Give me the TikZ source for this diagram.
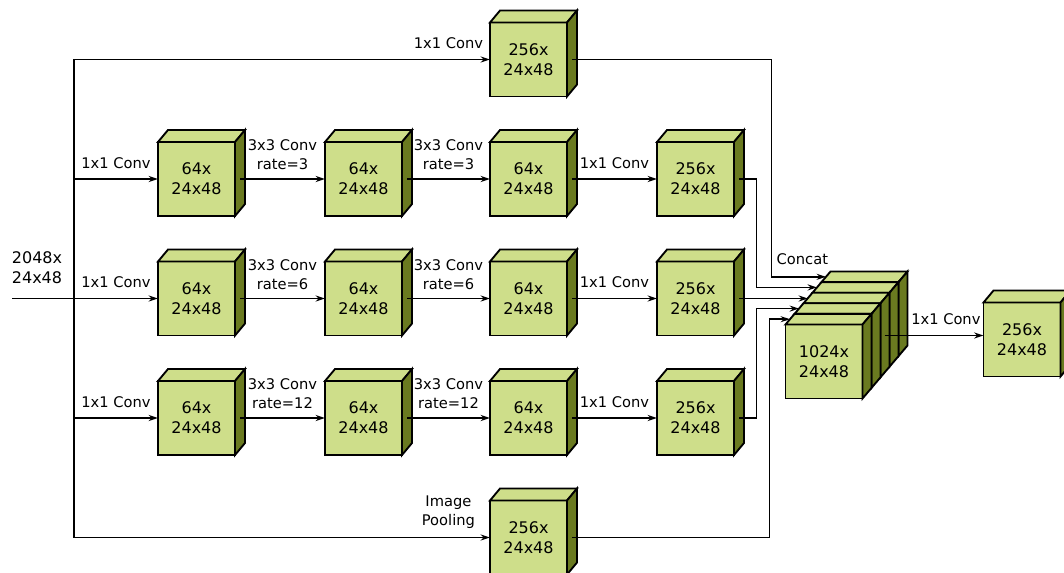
\documentclass[tikz,border=0pt]{standalone}
\usepackage{fontspec}
\setmainfont{DejaVu Sans}
\usetikzlibrary{arrows.meta,positioning,calc}
\definecolor{facegreen}{RGB}{206,222,138}
\definecolor{sidegreen}{RGB}{106,122,32}

% feature map: front face node, then top and side faces, plus an exit point
\newcommand{\featbox}[4][10,-12]{%
  \node[face] (#2) at (#3) {#4};
  \filldraw[topface] (#2.north west) -- ++(#1) -- ([shift={(#1)}]#2.north east) -- (#2.north east) -- cycle;
  \filldraw[sideface] (#2.north east) -- ++(#1) -- ([shift={(#1)}]#2.south east) -- (#2.south east) -- cycle;
  \coordinate (#2-out) at ([shift={(5,0)}]#2.east);
}

\begin{document}
\begin{tikzpicture}[
    x=0.75pt, y=-0.75pt,
    face/.style={rectangle, draw, line width=1.4pt, fill=facegreen, minimum width=57.75pt, minimum height=55.5pt, inner sep=0pt, outer sep=0pt, align=center, font=\fontsize{12}{15}\selectfont},
    topface/.style={draw, line width=1.4pt, fill=facegreen},
    sideface/.style={draw, line width=1.4pt, fill=sidegreen},
    conn/.style={-{Stealth[length=7pt,width=4.5pt]}, line width=1.2pt},
    wire/.style={line width=1.2pt},
    lab/.style={font=\fontsize{11}{14}\selectfont, align=center},
    bigtxt/.style={font=\fontsize{12}{15}\selectfont, align=center}
]
\useasboundingbox (0,0) rectangle (1064,572);

% ============ branches ============
\featbox{top}{528.5,59.5}{256x\\24x48}

\featbox{r1c1}{196.5,179}{64x\\24x48}
\featbox{r1c2}{363.5,179}{64x\\24x48}
\featbox{r1c3}{528.5,179}{64x\\24x48}
\featbox{r1c4}{695.5,179}{256x\\24x48}

\featbox{r2c1}{196.5,298.5}{64x\\24x48}
\featbox{r2c2}{363.5,298.5}{64x\\24x48}
\featbox{r2c3}{528.5,298.5}{64x\\24x48}
\featbox{r2c4}{695.5,298.5}{256x\\24x48}

\featbox{r3c1}{196.5,418}{64x\\24x48}
\featbox{r3c2}{363.5,418}{64x\\24x48}
\featbox{r3c3}{528.5,418}{64x\\24x48}
\featbox{r3c4}{695.5,418}{256x\\24x48}

\featbox{pool}{528.5,537.5}{256x\\24x48}

% ============ concat stack ============
\foreach \k in {4,3,2,1} {
  \featbox[9,-10.6]{cc\k}{824+9*\k,361.5-10.6*\k}{}
}
\featbox[9,-10.6]{cc0}{824,361.5}{1024x\\24x48}
\foreach \k in {0,...,4} {
  \coordinate (cc\k-in) at ([shift={(4.5,-5.3)}]cc\k.north west);
}
\coordinate (cc-out) at ([shift={(22,-26)}]cc0.east);
\node[lab, anchor=west] (concat) at (772,259) {Concat};

\featbox{outbox}{1022,339.5}{256x\\24x48}

% ============ input ============
\node[bigtxt] (inlab) at (37,268) {2048x\\24x48};
\coordinate (in) at (12,298.5);
\coordinate (bus) at (74,298.5);

\draw[wire] (in) -- (bus);
\draw[conn] (bus) |- node[lab, above=4pt, pos=0.95] {1x1 Conv} (top.west);
\draw[conn] (bus) |- node[lab, above=3pt, pos=0.95] {Image\\Pooling} (pool.west);
\draw[conn] (bus |- r1c1.west) -- node[lab, above=4pt] {1x1 Conv} (r1c1.west);
\draw[conn] (bus) -- node[lab, above=4pt] {1x1 Conv} (r2c1.west);
\draw[conn] (bus |- r3c1.west) -- node[lab, above=4pt] {1x1 Conv} (r3c1.west);

% ============ rows ============
\draw[conn] (r1c1-out) -- node[lab, above=3pt] {3x3 Conv\\rate=3} (r1c2.west);
\draw[conn] (r1c2-out) -- node[lab, above=3pt] {3x3 Conv\\rate=3} (r1c3.west);
\draw[conn] (r1c3-out) -- node[lab, above=4pt] {1x1 Conv} (r1c4.west);

\draw[conn] (r2c1-out) -- node[lab, above=3pt] {3x3 Conv\\rate=6} (r2c2.west);
\draw[conn] (r2c2-out) -- node[lab, above=3pt] {3x3 Conv\\rate=6} (r2c3.west);
\draw[conn] (r2c3-out) -- node[lab, above=4pt] {1x1 Conv} (r2c4.west);

\draw[conn] (r3c1-out) -- node[lab, above=3pt] {3x3 Conv\\rate=12} (r3c2.west);
\draw[conn] (r3c2-out) -- node[lab, above=3pt] {3x3 Conv\\rate=12} (r3c3.west);
\draw[conn] (r3c3-out) -- node[lab, above=4pt] {1x1 Conv} (r3c4.west);

% ============ into concat ============
\draw[conn] (top-out) -| ($(cc4-in)+(-54.5,0)$) -- (cc4-in);
\draw[conn] (r1c4-out) -| ($(cc3-in)+(-60.5,0)$) -- (cc3-in);
\draw[conn] (r2c4-out) -- (r2c4-out -| cc2-in);
\draw[conn] (r3c4-out) -| ($(cc1-in)+(-42.5,0)$) -- (cc1-in);
\draw[conn] (pool-out) -| ($(cc0-in)+(-20.5,0)$) -- (cc0-in);

\draw[conn] (cc-out) -- node[lab, above=4pt, pos=0.62] {1x1 Conv} (cc-out -| outbox.west);

\end{tikzpicture}
\end{document}
